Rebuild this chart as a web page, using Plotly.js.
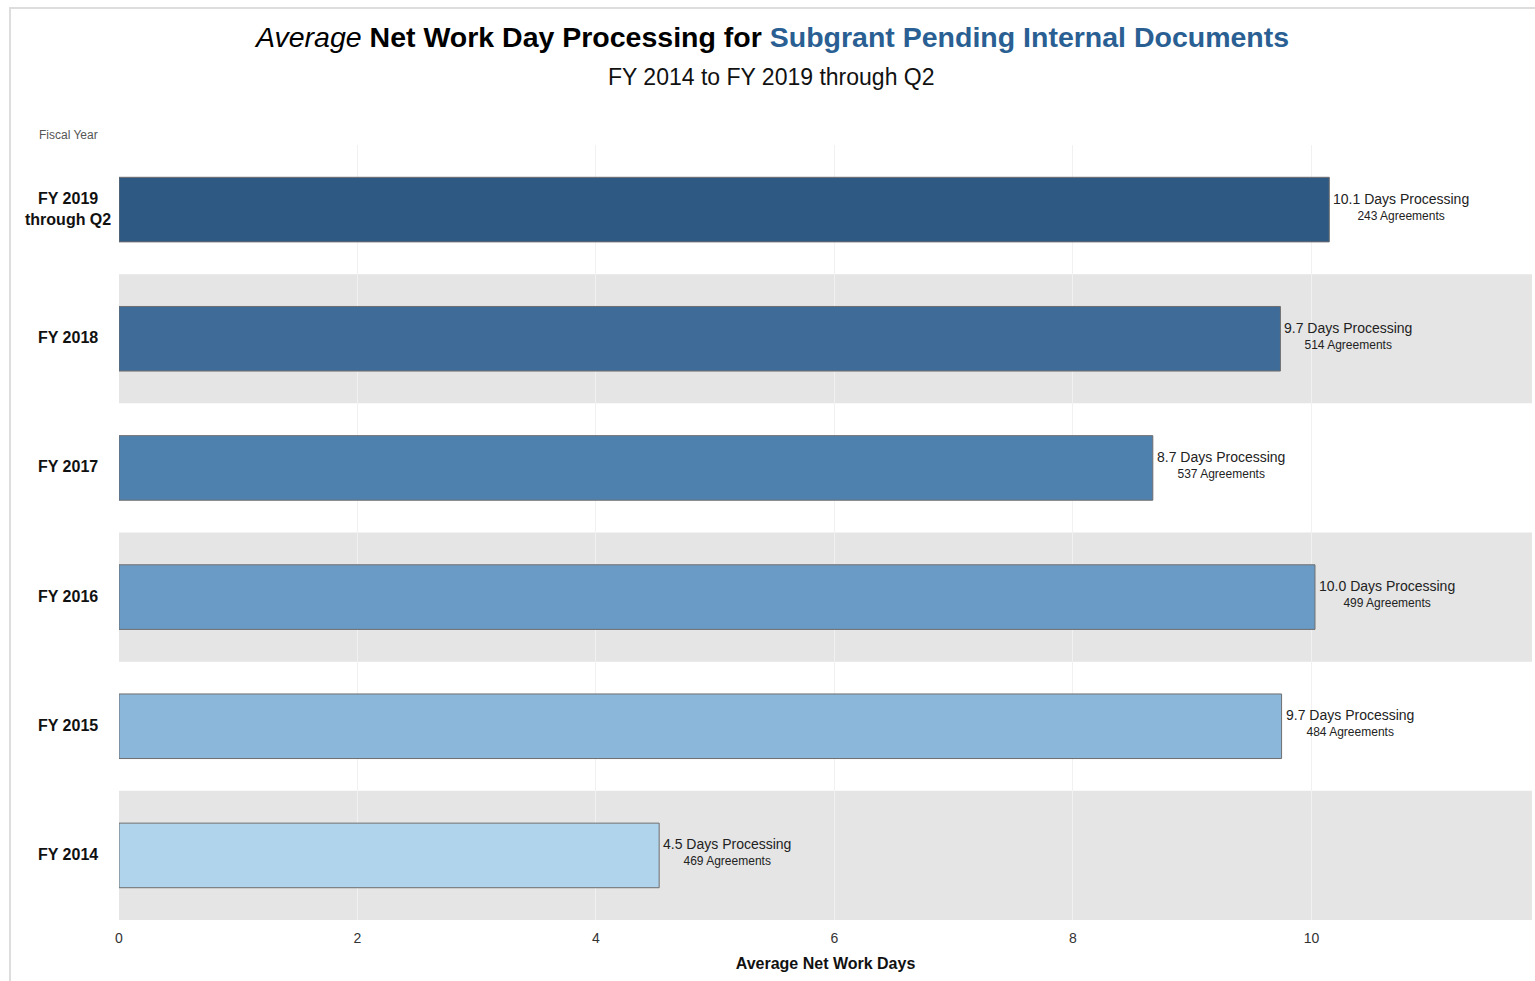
<!DOCTYPE html>
<html>
<head>
<meta charset="utf-8">
<script src="https://cdn.plot.ly/plotly-3.0.1.min.js"></script>
<style>
html,body{margin:0;padding:0;background:#fff;}
#frame{position:absolute;left:9px;top:7px;width:1540px;height:990px;border-left:2px solid #ddd;border-top:2px solid #ddd;}
#chart{position:absolute;left:0;top:0;width:1535px;height:981px;}
</style>
</head>
<body>
<div id="frame"></div>
<div id="chart"></div>
<script>
const categories = ["FY 2014", "FY 2015", "FY 2016", "FY 2017", "FY 2018", "FY 2019 through Q2"];
const categoryLabels = ["FY 2014", "FY 2015", "FY 2016", "FY 2017", "FY 2018", "FY 2019<br>through Q2"];
const avgDays = [4.53, 9.75, 10.03, 8.67, 9.74, 10.15];
const daysLabel = ["4.5", "9.7", "10.0", "8.7", "9.7", "10.1"];
const agreements = [469, 484, 499, 537, 514, 243];
const barColors = ["#b0d4ec", "#8ab7da", "#6a9bc6", "#4f81ae", "#3f6b98", "#2e5983"];
const shadedBands = [true, false, true, false, true, false];
const xTicks = [0, 2, 4, 6, 8, 10];

const narrow = "Liberation Sans Narrow, Liberation Sans, Arial, sans-serif";
const sans = "Liberation Sans, Arial, sans-serif";

const trace = {
  type: "bar",
  orientation: "h",
  y: categories,
  x: avgDays,
  width: 0.5,
  marker: {color: barColors, line: {color: "#6e6e6e", width: 1}},
  hoverinfo: "x+y"
};

const shapes = [];
shadedBands.forEach((s, i) => {
  if (s) shapes.push({
    type: "rect", layer: "below", xref: "paper", yref: "y",
    x0: 0, x1: 1, y0: i - 0.5, y1: i + 0.5,
    fillcolor: "#e5e5e5", line: {width: 0}
  });
});

const annotations = [];
categories.forEach((c, i) => {
  annotations.push({
    xref: "x", yref: "y", x: avgDays[i], y: c,
    xanchor: "left", yanchor: "middle", xshift: 2, yshift: 3,
    text: "<span style='font-size:14px'>" + daysLabel[i] + " Days Processing</span><br>" + agreements[i] + " Agreements",
    showarrow: false, align: "center",
    font: {family: narrow, size: 12, color: "#222"}
  });
  annotations.push({
    xref: "paper", yref: "y", x: -0.036, y: c,
    xanchor: "center", yanchor: "middle", yshift: 1,
    text: "<b>" + categoryLabels[i] + "</b>",
    showarrow: false, align: "center",
    font: {family: sans, size: 16, color: "#111"}
  });
});
annotations.push({
  xref: "paper", yref: "paper", x: -0.036, y: 1.0, yshift: 10,
  xanchor: "center", yanchor: "middle",
  text: "Fiscal Year", showarrow: false,
  font: {family: narrow, size: 12, color: "#555"}
});
annotations.push({
  xref: "paper", yref: "paper", x: 0.462, y: 1, yshift: 108,
  xanchor: "center", yanchor: "middle",
  text: "<i>Average</i> <b>Net Work Day Processing for <span style='color:#2a5f93'>Subgrant Pending Internal Documents</span></b>",
  showarrow: false,
  font: {family: sans, size: 28.5, color: "#000"}
});
annotations.push({
  xref: "paper", yref: "paper", x: 0.462, y: 1, yshift: 68,
  xanchor: "center", yanchor: "middle",
  text: "FY 2014 to FY 2019 through Q2",
  showarrow: false,
  font: {family: sans, size: 23, color: "#111"}
});

const layout = {
  width: 1535, height: 981,
  margin: {l: 119, r: 3, t: 145, b: 61},
  paper_bgcolor: "rgba(0,0,0,0)",
  plot_bgcolor: "#fff",
  showlegend: false,
  bargap: 0.5,
  xaxis: {
    range: [0, 11.85], tickvals: xTicks, ticktext: xTicks.map(String),
    showgrid: true, gridcolor: "#f1f1f1", gridwidth: 1,
    zeroline: false, showline: false, ticks: "",
    tickfont: {family: sans, size: 14, color: "#333"},
    ticklabelstandoff: 8,
    title: {text: "<b>Average Net Work Days</b>", font: {family: narrow, size: 16, color: "#111"}, standoff: 12}
  },
  yaxis: {
    type: "category", categoryorder: "array", categoryarray: categories,
    range: [-0.5, 5.5], showticklabels: false, showgrid: false,
    zeroline: false, showline: false, ticks: ""
  },
  shapes: shapes,
  annotations: annotations
};

Plotly.newPlot("chart", [trace], layout, {displayModeBar: false, staticPlot: true});
</script>
</body>
</html>
